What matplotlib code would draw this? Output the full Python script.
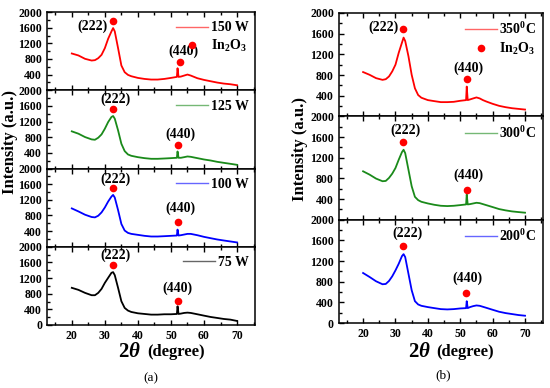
import matplotlib
matplotlib.use('Agg')
import matplotlib.pyplot as plt
from matplotlib.lines import Line2D

plt.rcParams['font.family'] = ['Liberation Serif', 'DejaVu Serif']
plt.rcParams['font.weight'] = 'bold'
plt.rcParams['mathtext.fontset'] = 'custom'
plt.rcParams['mathtext.rm'] = 'Liberation Serif:bold'
plt.rcParams['mathtext.bf'] = 'Liberation Serif:bold'
plt.rcParams['mathtext.it'] = 'Liberation Serif:italic:bold'

# 2theta grid (degree)
two_theta = [20, 22, 24, 26, 27, 28, 29, 30, 31, 32, 32.5, 33, 34, 35, 36, 37, 38,
             40, 42, 44, 46, 48, 50, 51.8, 52, 52.3, 53, 54, 55, 56, 57, 58,
             60, 62, 64, 66, 68, 70]

# (a) sputtering power
i_150w = [940, 890, 804, 760, 770, 820, 906, 1077, 1317, 1505, 1590, 1505, 1077, 633, 462, 393, 359,
          316, 290, 274, 274, 290, 316, 342, 564, 342, 350, 376, 402, 376, 342, 308,
          265, 231, 197, 171, 154, 128]
i_125w = [950, 890, 804, 744, 735, 787, 872, 1017, 1188, 1317, 1342, 1274, 975, 633, 445, 359, 325,
          290, 265, 248, 248, 256, 265, 274, 436, 274, 274, 290, 308, 299, 282, 265,
          231, 205, 171, 145, 120, 94]
i_100w = [980, 903, 819, 760, 751, 793, 878, 1004, 1156, 1283, 1325, 1258, 937, 582, 414, 354, 329,
          304, 279, 262, 262, 270, 279, 287, 439, 287, 295, 312, 329, 329, 312, 295,
          253, 219, 186, 160, 135, 110]
i_75w = [950, 898, 821, 761, 761, 821, 923, 1077, 1206, 1334, 1351, 1274, 949, 607, 436, 368, 333,
         299, 282, 265, 265, 274, 274, 282, 479, 282, 291, 308, 316, 308, 291, 274,
         239, 205, 180, 154, 137, 103]

# (b) temperature
i_350c = [857, 804, 739, 706, 719, 772, 870, 1000, 1230, 1426, 1524, 1458, 1164, 804, 543, 412, 360,
          314, 294, 275, 275, 281, 301, 314, 576, 314, 327, 347, 366, 347, 314, 288,
          242, 203, 177, 157, 144, 131]
i_300c = [936, 872, 795, 744, 750, 808, 891, 1000, 1160, 1308, 1353, 1288, 968, 647, 442, 378, 346,
          314, 288, 269, 263, 269, 282, 295, 487, 295, 301, 314, 327, 320, 301, 282,
          244, 205, 180, 160, 147, 135]
i_200c = [968, 891, 808, 750, 756, 814, 904, 1019, 1147, 1295, 1333, 1276, 955, 635, 423, 359, 333,
          308, 288, 269, 263, 269, 282, 288, 423, 288, 308, 327, 340, 333, 314, 295,
          256, 218, 192, 173, 154, 141]

labels_a = ['150 W', '125 W', '100 W', '75 W']
labels_b = ['350$^{0}$C', '300$^{0}$C', '200$^{0}$C']
colors_a = ['#ff0000', '#1a8a1a', '#0000ff', '#000000']
colors_b = ['#ff0000', '#1a8a1a', '#0000ff']

# In2O3 peak markers: (x222, y222, x440, y440)
marks_a = [(32.5, 1770, 52.6, 718), (32.5, 1522, 52.2, 590),
           (32.5, 1511, 52.0, 625), (32.4, 1530, 52.1, 624)]
marks_b = [(32.4, 1687, 52.2, 720), (32.4, 1506, 52.2, 583), (32.4, 1487, 51.9, 583)]
# peak label positions: (x222, y222, x440, y440)
plab_a = [(26.2, 1640, 53.7, 1000), (33.3, 1780, 52.8, 880),
          (33.3, 1720, 53.0, 980), (33.3, 1780, 52.1, 930)]
plab_b = [(26.2, 1720, 52.4, 922), (33.0, 1737, 52.4, 865), (33.6, 1743, 52.2, 859)]

fig = plt.figure(figsize=(5.5, 3.88), dpi=100)


def draw_stack(series, labels, colors, marks, plabs, left, right, bottom, top):
    gs = fig.add_gridspec(len(series), 1, left=left, right=right, bottom=bottom, top=top, hspace=0)
    n = len(series)
    for k in range(n):
        ax = fig.add_subplot(gs[k])
        ax.plot(two_theta, series[k], color=colors[k], lw=1.3)
        m = marks[k]
        ax.plot([m[0], m[2]], [m[1], m[3]], 'o', color='#ff0000', ms=5.5, mec='none')
        p = plabs[k]
        ax.text(p[0], p[1], '(222)', ha='center', va='center', fontsize=10, fontweight='bold')
        ax.text(p[2], p[3], '(440)', ha='center', va='center', fontsize=10, fontweight='bold')
        ax.set_xlim(12.5, 75.5)
        ax.set_ylim(0, 2000)
        ax.set_xticks([20, 30, 40, 50, 60, 70])
        ax.set_xticks([15, 25, 35, 45, 55, 65, 75], minor=True)
        if k == n - 1:
            ax.set_yticks([0, 400, 800, 1200, 1600, 2000])
        else:
            ax.set_yticks([400, 800, 1200, 1600, 2000])
            ax.tick_params(labelbottom=False)
        ax.set_yticks([200, 600, 1000, 1400, 1800], minor=True)
        ax.tick_params(which='both', direction='in', top=True, labelsize=8.5)
        ax.tick_params(which='major', length=3.5, width=1)
        ax.tick_params(which='minor', length=2, width=1)
        for lab in ax.get_xticklabels() + ax.get_yticklabels():
            lab.set_fontweight('bold')
        for s in ax.spines.values():
            s.set_linewidth(1.1)
        handles = [Line2D([], [], color=colors[k], lw=1.0, alpha=0.6)]
        names = [labels[k]]
        if k == 0:
            handles.append(Line2D([], [], ls='none', marker='o', color='#ff0000', ms=5.5, mec='none'))
            names.append('In$_2$O$_3$')
        ax.legend(handles, names, loc='upper right', bbox_to_anchor=(1.03, 1.04), frameon=False,
                  handlelength=2.3, handletextpad=0.2, labelspacing=0.25,
                  prop={'size': 10, 'weight': 'bold'})


draw_stack([i_150w, i_125w, i_100w, i_75w], labels_a, colors_a, marks_a, plab_a,
           0.0855, 0.464, 0.1624, 0.969)
draw_stack([i_350c, i_300c, i_200c], labels_b, colors_b, marks_b, plab_b,
           0.616, 0.987, 0.1675, 0.9665)

for x0, yc in [(0.018, 0.634), (0.546, 0.615)]:
    fig.text(x0, yc, 'Intensity (a.u.)', rotation=90, ha='center', va='center',
             fontsize=12, fontweight='bold')

for xc in [0.262, 0.788]:
    fig.text(xc - 0.005, 0.093, r'$2\mathit{\theta}$', ha='right', va='center', fontsize=15)
    fig.text(xc + 0.005, 0.093, '(degree)', ha='left', va='center', fontsize=12, fontweight='bold')

fig.text(0.275, 0.026, '(a)', ha='center', va='center', fontsize=9.5, fontweight='normal')
fig.text(0.805, 0.033, '(b)', ha='center', va='center', fontsize=9.5, fontweight='normal')

fig.savefig('out.png', dpi=100)
